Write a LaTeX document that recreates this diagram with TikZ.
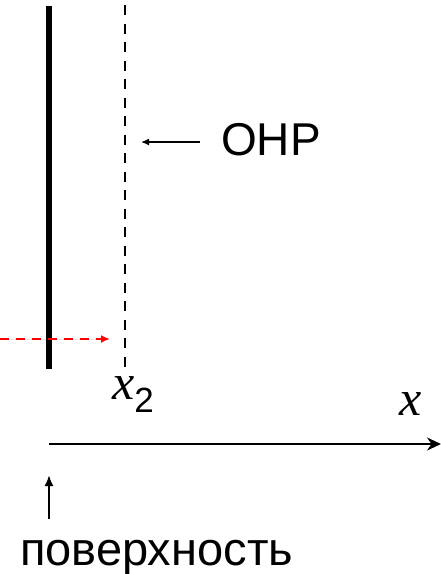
\documentclass[tikz,border=0pt]{standalone}
\usepackage{fontspec}
\setmainfont{Liberation Sans}
\newfontfamily\timesfont{Liberation Serif}
\usetikzlibrary{arrows.meta,positioning}

\begin{document}
\begin{tikzpicture}[x=1pt, y=-1pt]
 \useasboundingbox (0,0) rectangle (441,574);

 \coordinate (stop) at (49,6);
 \coordinate (sbot) at (49,369);
 \coordinate (otop) at (125,5);
 \coordinate (obot) at (125,370);
 \coordinate (redstart) at (0,339);
 \coordinate (ax0) at (49,444);
 \coordinate (ax1) at (441,444);

 \node[inner sep=0pt, anchor=base west, font=\fontsize{46}{46}\selectfont] (ohp) at (221,155) {OHP};
 \node[inner sep=0pt, anchor=base west] (x2) at (112,399) {{\fontsize{50}{50}\timesfont\itshape x}{\fontsize{35}{35}\selectfont\raisebox{-13pt}{2}}};
 \node[inner sep=0pt, anchor=base west, font=\fontsize{50}{50}\timesfont\itshape] (xlab) at (399,415) {x};
 \node[inner sep=0pt, anchor=base west, font=\fontsize{47}{47}\selectfont] (surf) at (20,565) {поверхность};

 \draw[line width=5.5pt] (stop) -- (sbot);
 \draw[line width=2.4pt, dash pattern=on 10pt off 8.5pt] (otop) -- (obot);
 \draw[-{Latex[length=9pt, width=8pt]}, line width=2.2pt, draw=red, fill=red, dash pattern=on 9pt off 7pt, shorten >=15pt] (redstart) -- (redstart -| otop);
 \draw[-{Latex[length=8pt, width=7pt]}, line width=1.4pt, shorten >=16pt] ([shift={(-21pt,13pt)}]ohp.base west) -- ([yshift=13pt]ohp.base west -| otop);
 \draw[-{Stealth[length=14pt, width=13pt]}, line width=2.5pt] (ax0) -- (ax1);
 \draw[-{Latex[length=11pt, width=9pt]}, line width=2pt, shorten <=21pt, shorten >=31pt] (surf.north west -| ax0) -- (ax0);
\end{tikzpicture}
\end{document}
